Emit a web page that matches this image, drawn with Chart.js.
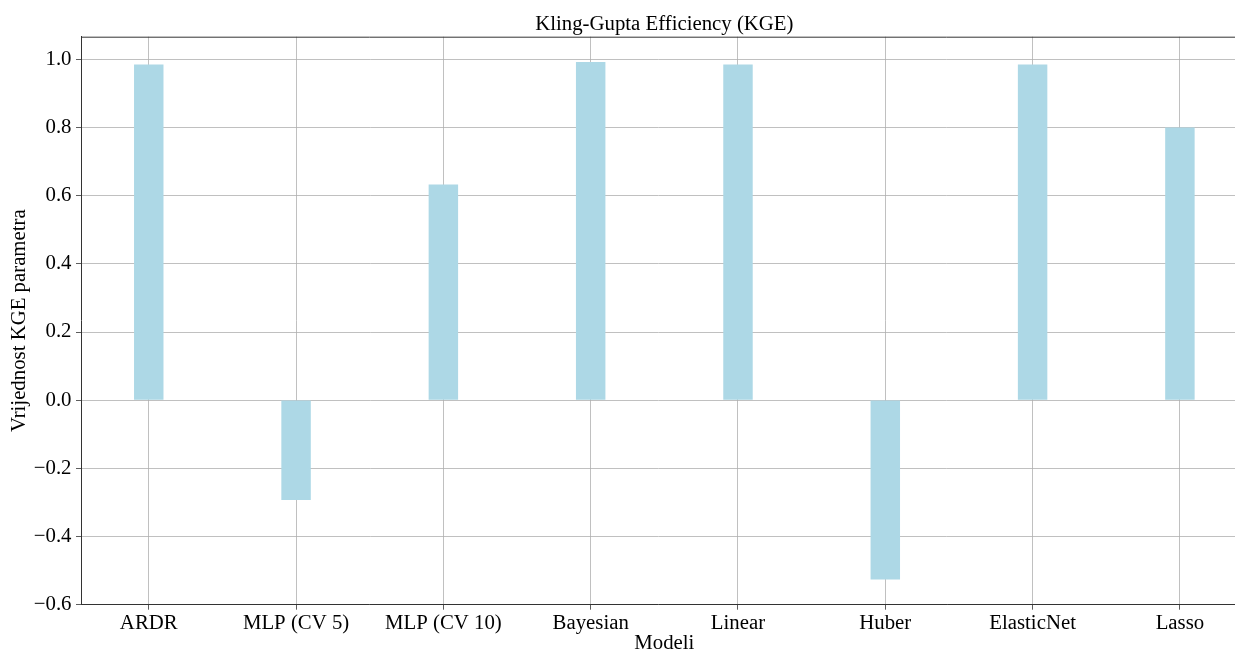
<!DOCTYPE html>
<html><head><meta charset="utf-8">
<script src="https://cdn.jsdelivr.net/npm/chart.js@4/dist/chart.umd.min.js"></script>
<style>html,body{margin:0;padding:0;background:#fff;}#wrap{width:1235px;height:650px;}</style>
</head><body><div id="wrap"><canvas id="c" width="1235" height="650"></canvas></div>
<script>
const categories = ["ARDR", "MLP (CV 5)", "MLP (CV 10)", "Bayesian", "Linear", "Huber", "ElasticNet", "Lasso"];
const kgeValues = [0.985, -0.293, 0.633, 0.992, 0.985, -0.526, 0.985, 0.800];
const yTicks = [-0.6, -0.4, -0.2, 0.0, 0.2, 0.4, 0.6, 0.8, 1.0];
const chartTitle = "Kling-Gupta Efficiency (KGE)";
const xTitle = "Modeli";
const yTitle = "Vrijednost KGE parametra";

const FONT = '"Liberation Serif", "Times New Roman", serif';
const FS = 20.8;

const decor = {
  id: 'decor',
  afterDraw(chart) {
    const { ctx, chartArea: a } = chart;
    const xs = chart.scales.x;
    ctx.save();
    ctx.strokeStyle = '#333';
    ctx.lineWidth = 1;
    ctx.beginPath();
    ctx.moveTo(a.left, a.top + 0.5);
    ctx.lineTo(a.right, a.top + 0.5);
    ctx.stroke();
    ctx.fillStyle = '#000';
    ctx.font = FS + 'px ' + FONT;
    ctx.textAlign = 'center';
    ctx.textBaseline = 'alphabetic';
    const cx = (xs.getPixelForValue(-0.46) + xs.getPixelForValue(7.46)) / 2;
    ctx.fillText(chartTitle, cx, 29.5);
    ctx.fillText(xTitle, cx, 648.5);
    ctx.restore();
  }
};

new Chart(document.getElementById('c'), {
  type: 'bar',
  data: {
    datasets: [{
      data: categories.map((c, i) => ({ x: i, y: kgeValues[i] })),
      backgroundColor: '#ADD8E6',
      borderWidth: 0,
      categoryPercentage: 1,
      barPercentage: 0.2
    }]
  },
  options: {
    responsive: false,
    animation: false,
    devicePixelRatio: 1,
    layout: { padding: { top: 36.7, right: 0, bottom: 0, left: 0 } },
    plugins: { legend: { display: false }, tooltip: { enabled: false }, title: { display: false } },
    scales: {
      x: {
        type: 'linear',
        offset: false,
        min: -0.46,
        max: 7.374,
        afterBuildTicks: (s) => { s.ticks = categories.map((c, i) => ({ value: i })); },
        afterFit: (s) => { s.height = 45.3; },
        ticks: {
          autoSkip: false,
          maxRotation: 0,
          padding: 1,
          color: '#000',
          font: { family: FONT, size: FS },
          callback: (v) => categories[v]
        },
        grid: { offset: false, color: '#b0b0b0', lineWidth: 0.8, tickLength: 5, tickColor: '#333', drawTicks: true },
        border: { display: true, color: '#333', width: 1 }
      },
      y: {
        min: -0.6,
        max: 1.0665,
        afterBuildTicks: (s) => { s.ticks = yTicks.map(v => ({ value: v })); },
        afterFit: (s) => { s.width = 81; },
        ticks: {
          padding: 4.5,
          color: '#000',
          font: { family: FONT, size: FS },
          callback: (v) => (v < 0 ? '\u2212' : '') + Math.abs(v).toFixed(1)
        },
        grid: { color: '#b0b0b0', lineWidth: 0.8, tickLength: 5, tickColor: '#333' },
        border: { display: true, color: '#333', width: 1 },
        title: {
          display: true,
          text: yTitle,
          color: '#000',
          font: { family: FONT, size: FS },
          padding: { top: 7.5, bottom: 0 }
        }
      }
    }
  },
  plugins: [decor]
});
</script>
</body></html>
